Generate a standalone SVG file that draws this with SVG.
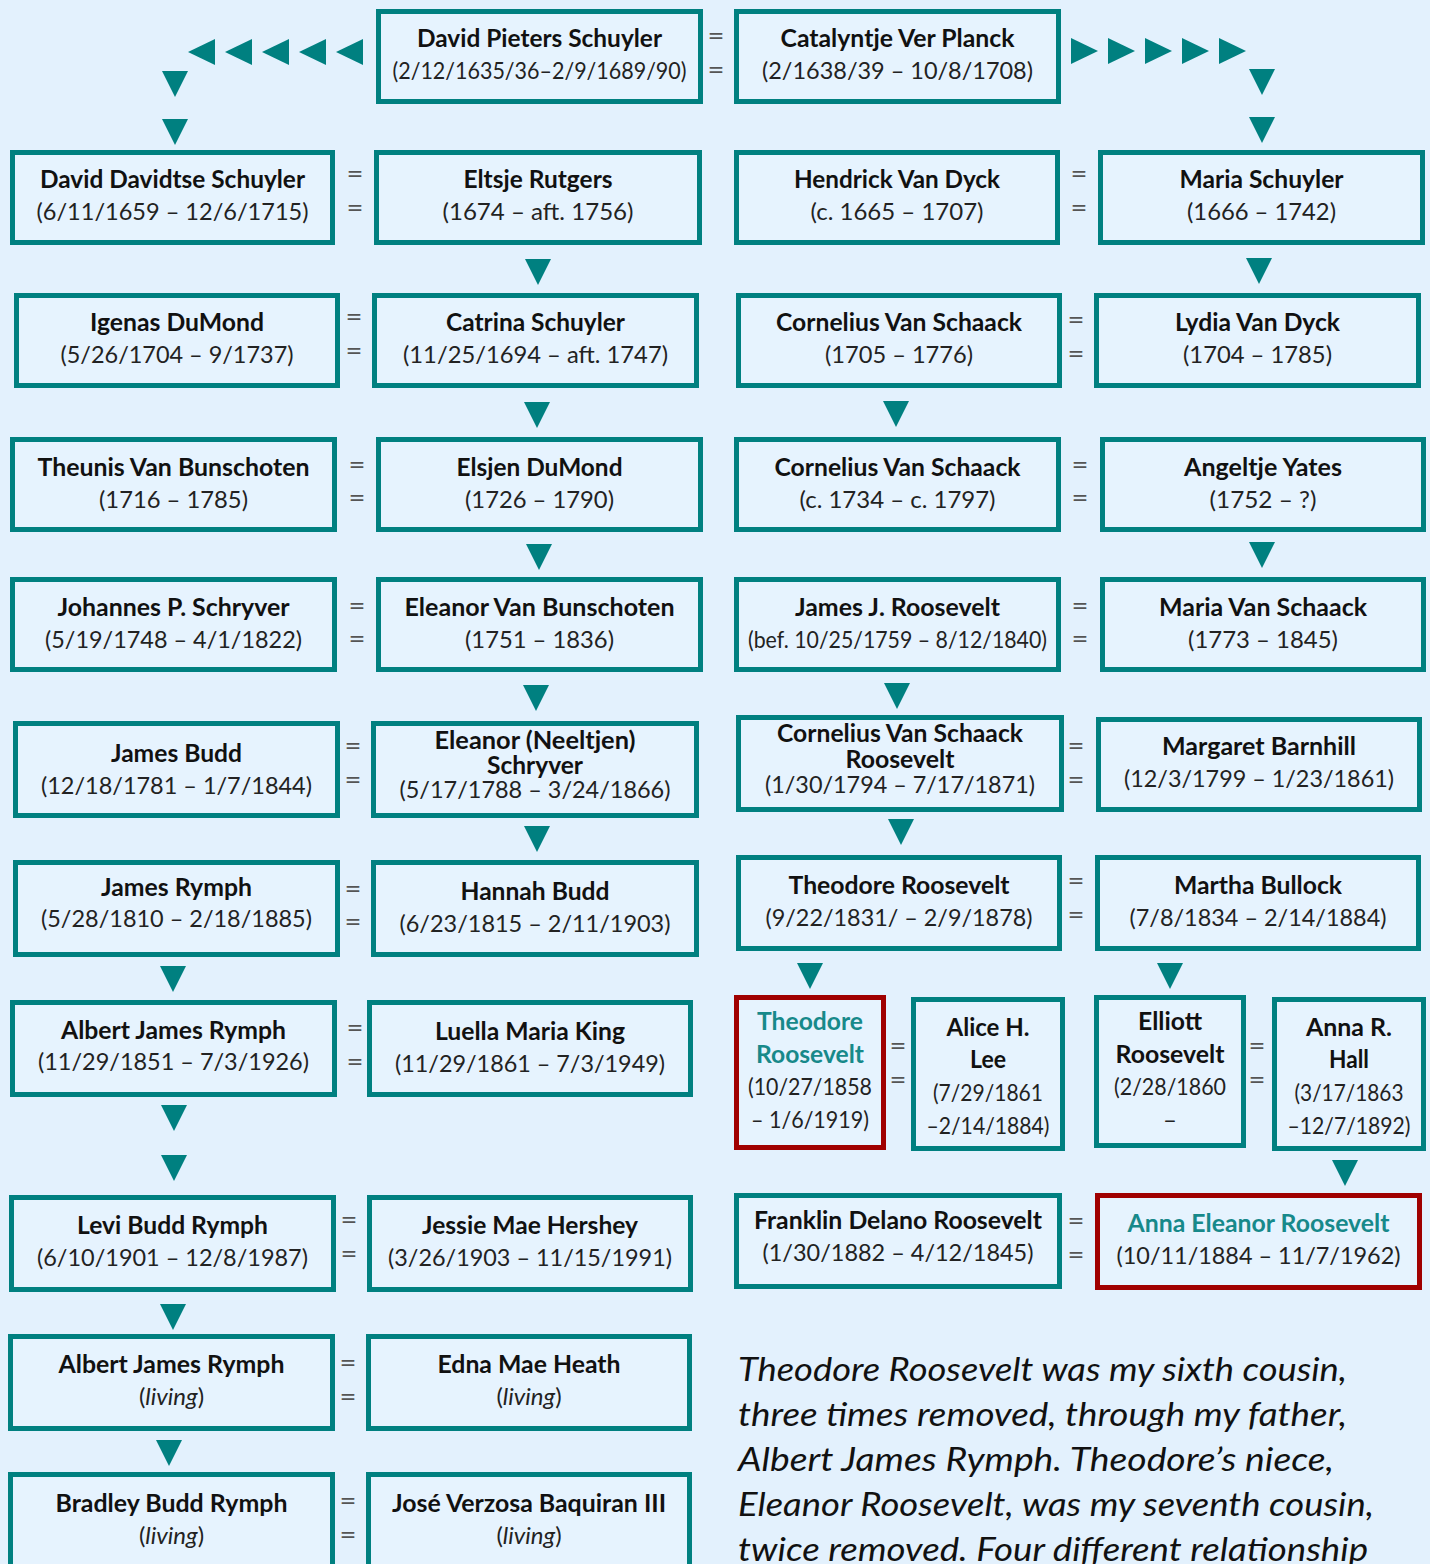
<svg xmlns="http://www.w3.org/2000/svg" xmlns:xlink="http://www.w3.org/1999/xlink" width="1430" height="1564" viewBox="0 0 1430 1564">
<style>
.bg{fill:#E3F1FD}
.box{fill:#E6F3FE;stroke:#008080;stroke-width:5}
.red{stroke:#A00000}
text{font-family:Lato,"Open Sans","Liberation Sans",sans-serif;text-anchor:middle}
.nm{font-size:24px;font-weight:bold;fill:#111}
.tl{font-size:24px;font-weight:bold;fill:#17898A}
.dt{font-size:24px;fill:#222}
.it{font-style:italic}
.eq{font-size:26px;fill:#555}
.tri{fill:#008080}
.para{font-size:33px;font-style:italic;fill:#111;text-anchor:start}
</style>
<defs>
<path id="dn" d="M-13,0 L13,0 L0,26 Z"/>
<path id="lf" d="M0,13 L27,0 L27,26 Z"/>
<path id="rt" d="M0,0 L27,13 L0,26 Z"/>
</defs>
<rect class="bg" x="0" y="0" width="1430" height="1564"/>

<g id="connectors">
<use href="#lf" class="tri" x="188" y="39"/>
<use href="#lf" class="tri" x="225" y="39"/>
<use href="#lf" class="tri" x="262" y="39"/>
<use href="#lf" class="tri" x="299" y="39"/>
<use href="#lf" class="tri" x="336" y="39"/>
<use href="#dn" class="tri" x="175" y="71"/>
<use href="#dn" class="tri" x="175" y="119"/>
<use href="#rt" class="tri" x="1071" y="38"/>
<use href="#rt" class="tri" x="1108" y="38"/>
<use href="#rt" class="tri" x="1145" y="38"/>
<use href="#rt" class="tri" x="1182" y="38"/>
<use href="#rt" class="tri" x="1219" y="38"/>
<use href="#dn" class="tri" x="1262" y="69"/>
<use href="#dn" class="tri" x="1262" y="117"/>
<use href="#dn" class="tri" x="538" y="259"/>
<use href="#dn" class="tri" x="537" y="402"/>
<use href="#dn" class="tri" x="539" y="544"/>
<use href="#dn" class="tri" x="536" y="685"/>
<use href="#dn" class="tri" x="537" y="826"/>
<use href="#dn" class="tri" x="173" y="966"/>
<use href="#dn" class="tri" x="174" y="1105"/>
<use href="#dn" class="tri" x="174" y="1155"/>
<use href="#dn" class="tri" x="173" y="1304"/>
<use href="#dn" class="tri" x="169" y="1440"/>
<use href="#dn" class="tri" x="1259" y="258"/>
<use href="#dn" class="tri" x="896" y="401"/>
<use href="#dn" class="tri" x="1262" y="542"/>
<use href="#dn" class="tri" x="897" y="683"/>
<use href="#dn" class="tri" x="901" y="819"/>
<use href="#dn" class="tri" x="810" y="963"/>
<use href="#dn" class="tri" x="1170" y="963"/>
<use href="#dn" class="tri" x="1345" y="1160"/>
</g>

<g id="marriages">
<text class="eq" x="716" y="45" textLength="17" lengthAdjust="spacingAndGlyphs">=</text><text class="eq" x="716" y="79" textLength="17" lengthAdjust="spacingAndGlyphs">=</text>
<text class="eq" x="355" y="183" textLength="17" lengthAdjust="spacingAndGlyphs">=</text><text class="eq" x="355" y="217" textLength="17" lengthAdjust="spacingAndGlyphs">=</text>
<text class="eq" x="1079" y="183" textLength="17" lengthAdjust="spacingAndGlyphs">=</text><text class="eq" x="1079" y="217" textLength="17" lengthAdjust="spacingAndGlyphs">=</text>
<text class="eq" x="354" y="326" textLength="17" lengthAdjust="spacingAndGlyphs">=</text><text class="eq" x="354" y="360" textLength="17" lengthAdjust="spacingAndGlyphs">=</text>
<text class="eq" x="1076" y="329" textLength="17" lengthAdjust="spacingAndGlyphs">=</text><text class="eq" x="1076" y="363" textLength="17" lengthAdjust="spacingAndGlyphs">=</text>
<text class="eq" x="357" y="474" textLength="17" lengthAdjust="spacingAndGlyphs">=</text><text class="eq" x="357" y="507" textLength="17" lengthAdjust="spacingAndGlyphs">=</text>
<text class="eq" x="1080" y="474" textLength="17" lengthAdjust="spacingAndGlyphs">=</text><text class="eq" x="1080" y="507" textLength="17" lengthAdjust="spacingAndGlyphs">=</text>
<text class="eq" x="357" y="615" textLength="17" lengthAdjust="spacingAndGlyphs">=</text><text class="eq" x="357" y="648" textLength="17" lengthAdjust="spacingAndGlyphs">=</text>
<text class="eq" x="1080" y="615" textLength="17" lengthAdjust="spacingAndGlyphs">=</text><text class="eq" x="1080" y="648" textLength="17" lengthAdjust="spacingAndGlyphs">=</text>
<text class="eq" x="353" y="755" textLength="17" lengthAdjust="spacingAndGlyphs">=</text><text class="eq" x="353" y="789" textLength="17" lengthAdjust="spacingAndGlyphs">=</text>
<text class="eq" x="1076" y="755" textLength="17" lengthAdjust="spacingAndGlyphs">=</text><text class="eq" x="1076" y="789" textLength="17" lengthAdjust="spacingAndGlyphs">=</text>
<text class="eq" x="353" y="898" textLength="17" lengthAdjust="spacingAndGlyphs">=</text><text class="eq" x="353" y="931" textLength="17" lengthAdjust="spacingAndGlyphs">=</text>
<text class="eq" x="1076" y="890" textLength="17" lengthAdjust="spacingAndGlyphs">=</text><text class="eq" x="1076" y="924" textLength="17" lengthAdjust="spacingAndGlyphs">=</text>
<text class="eq" x="355" y="1037" textLength="17" lengthAdjust="spacingAndGlyphs">=</text><text class="eq" x="355" y="1071" textLength="17" lengthAdjust="spacingAndGlyphs">=</text>
<text class="eq" x="898" y="1055" textLength="17" lengthAdjust="spacingAndGlyphs">=</text><text class="eq" x="898" y="1089" textLength="17" lengthAdjust="spacingAndGlyphs">=</text>
<text class="eq" x="1257" y="1055" textLength="17" lengthAdjust="spacingAndGlyphs">=</text><text class="eq" x="1257" y="1089" textLength="17" lengthAdjust="spacingAndGlyphs">=</text>
<text class="eq" x="349" y="1229" textLength="17" lengthAdjust="spacingAndGlyphs">=</text><text class="eq" x="349" y="1263" textLength="17" lengthAdjust="spacingAndGlyphs">=</text>
<text class="eq" x="1076" y="1230" textLength="17" lengthAdjust="spacingAndGlyphs">=</text><text class="eq" x="1076" y="1264" textLength="17" lengthAdjust="spacingAndGlyphs">=</text>
<text class="eq" x="348" y="1372" textLength="17" lengthAdjust="spacingAndGlyphs">=</text><text class="eq" x="348" y="1406" textLength="17" lengthAdjust="spacingAndGlyphs">=</text>
<text class="eq" x="348" y="1510" textLength="17" lengthAdjust="spacingAndGlyphs">=</text><text class="eq" x="348" y="1544" textLength="17" lengthAdjust="spacingAndGlyphs">=</text>
</g>

<g id="david-pieters-schuyler"><rect class="box" x="378.5" y="11.5" width="322" height="90"/>
<text class="nm" x="539.5" y="47" textLength="245" lengthAdjust="spacingAndGlyphs">David Pieters Schuyler</text>
<text class="dt" x="539.5" y="79" textLength="294" lengthAdjust="spacingAndGlyphs">(2/12/1635/36–2/9/1689/90)</text></g>
<g id="catalyntje-ver-planck"><rect class="box" x="736.5" y="11.5" width="322" height="90"/>
<text class="nm" x="897.5" y="47" textLength="234" lengthAdjust="spacingAndGlyphs">Catalyntje Ver Planck</text>
<text class="dt" x="897.5" y="79" textLength="271" lengthAdjust="spacingAndGlyphs">(2/1638/39 – 10/8/1708)</text></g>

<g id="david-davidtse-schuyler"><rect class="box" x="12.5" y="152.5" width="320" height="90"/>
<text class="nm" x="172.5" y="188" textLength="265" lengthAdjust="spacingAndGlyphs">David Davidtse Schuyler</text>
<text class="dt" x="172.5" y="220" textLength="272" lengthAdjust="spacingAndGlyphs">(6/11/1659 – 12/6/1715)</text></g>
<g id="eltsje-rutgers"><rect class="box" x="376.5" y="152.5" width="323" height="90"/>
<text class="nm" x="538" y="188" textLength="149" lengthAdjust="spacingAndGlyphs">Eltsje Rutgers</text>
<text class="dt" x="538" y="220" textLength="191" lengthAdjust="spacingAndGlyphs">(1674 – aft. 1756)</text></g>
<g id="hendrick-van-dyck"><rect class="box" x="736.5" y="152.5" width="321" height="90"/>
<text class="nm" x="897" y="188" textLength="206" lengthAdjust="spacingAndGlyphs">Hendrick Van Dyck</text>
<text class="dt" x="897" y="220" textLength="173" lengthAdjust="spacingAndGlyphs">(c. 1665 – 1707)</text></g>
<g id="maria-schuyler"><rect class="box" x="1100.5" y="152.5" width="322" height="90"/>
<text class="nm" x="1261.5" y="188" textLength="164" lengthAdjust="spacingAndGlyphs">Maria Schuyler</text>
<text class="dt" x="1261.5" y="220" textLength="149" lengthAdjust="spacingAndGlyphs">(1666 – 1742)</text></g>

<g id="igenas-dumond"><rect class="box" x="16.5" y="295.5" width="321" height="90"/>
<text class="nm" x="177" y="331" textLength="174" lengthAdjust="spacingAndGlyphs">Igenas DuMond</text>
<text class="dt" x="177" y="363" textLength="233" lengthAdjust="spacingAndGlyphs">(5/26/1704 – 9/1737)</text></g>
<g id="catrina-schuyler"><rect class="box" x="374.5" y="295.5" width="322" height="90"/>
<text class="nm" x="535.5" y="331" textLength="179" lengthAdjust="spacingAndGlyphs">Catrina Schuyler</text>
<text class="dt" x="535.5" y="363" textLength="265" lengthAdjust="spacingAndGlyphs">(11/25/1694 – aft. 1747)</text></g>
<g id="cornelius-van-schaack-1705"><rect class="box" x="738.5" y="295.5" width="321" height="90"/>
<text class="nm" x="899" y="331" textLength="246" lengthAdjust="spacingAndGlyphs">Cornelius Van Schaack</text>
<text class="dt" x="899" y="363" textLength="148" lengthAdjust="spacingAndGlyphs">(1705 – 1776)</text></g>
<g id="lydia-van-dyck"><rect class="box" x="1096.5" y="295.5" width="322" height="90"/>
<text class="nm" x="1257.5" y="331" textLength="165" lengthAdjust="spacingAndGlyphs">Lydia Van Dyck</text>
<text class="dt" x="1257.5" y="363" textLength="149" lengthAdjust="spacingAndGlyphs">(1704 – 1785)</text></g>

<g id="theunis-van-bunschoten"><rect class="box" x="12.5" y="439.5" width="322" height="90"/>
<text class="nm" x="173.5" y="476" textLength="272" lengthAdjust="spacingAndGlyphs">Theunis Van Bunschoten</text>
<text class="dt" x="173.5" y="508" textLength="149" lengthAdjust="spacingAndGlyphs">(1716 – 1785)</text></g>
<g id="elsjen-dumond"><rect class="box" x="378.5" y="439.5" width="322" height="90"/>
<text class="nm" x="539.5" y="476" textLength="166" lengthAdjust="spacingAndGlyphs">Elsjen DuMond</text>
<text class="dt" x="539.5" y="508" textLength="149" lengthAdjust="spacingAndGlyphs">(1726 – 1790)</text></g>
<g id="cornelius-van-schaack-1734"><rect class="box" x="736.5" y="439.5" width="322" height="90"/>
<text class="nm" x="897.5" y="476" textLength="246" lengthAdjust="spacingAndGlyphs">Cornelius Van Schaack</text>
<text class="dt" x="897.5" y="508" textLength="196" lengthAdjust="spacingAndGlyphs">(c. 1734 – c. 1797)</text></g>
<g id="angeltje-yates"><rect class="box" x="1102.5" y="439.5" width="321" height="90"/>
<text class="nm" x="1263" y="476" textLength="158" lengthAdjust="spacingAndGlyphs">Angeltje Yates</text>
<text class="dt" x="1263" y="508" textLength="107" lengthAdjust="spacingAndGlyphs">(1752 – ?)</text></g>

<g id="johannes-p-schryver"><rect class="box" x="12.5" y="579.5" width="322" height="90"/>
<text class="nm" x="173.5" y="616" textLength="232" lengthAdjust="spacingAndGlyphs">Johannes P. Schryver</text>
<text class="dt" x="173.5" y="648" textLength="257" lengthAdjust="spacingAndGlyphs">(5/19/1748 – 4/1/1822)</text></g>
<g id="eleanor-van-bunschoten"><rect class="box" x="378.5" y="579.5" width="322" height="90"/>
<text class="nm" x="539.5" y="616" textLength="270" lengthAdjust="spacingAndGlyphs">Eleanor Van Bunschoten</text>
<text class="dt" x="539.5" y="648" textLength="149" lengthAdjust="spacingAndGlyphs">(1751 – 1836)</text></g>
<g id="james-j-roosevelt"><rect class="box" x="736.5" y="579.5" width="322" height="90"/>
<text class="nm" x="897.5" y="616" textLength="205" lengthAdjust="spacingAndGlyphs">James J. Roosevelt</text>
<text class="dt" x="897.5" y="648" textLength="299" lengthAdjust="spacingAndGlyphs">(bef. 10/25/1759 – 8/12/1840)</text></g>
<g id="maria-van-schaack"><rect class="box" x="1102.5" y="579.5" width="321" height="90"/>
<text class="nm" x="1263" y="616" textLength="208" lengthAdjust="spacingAndGlyphs">Maria Van Schaack</text>
<text class="dt" x="1263" y="648" textLength="150" lengthAdjust="spacingAndGlyphs">(1773 – 1845)</text></g>

<g id="james-budd"><rect class="box" x="15.5" y="723.5" width="322" height="92"/>
<text class="nm" x="176.5" y="762" textLength="131" lengthAdjust="spacingAndGlyphs">James Budd</text>
<text class="dt" x="176.5" y="794" textLength="271" lengthAdjust="spacingAndGlyphs">(12/18/1781 – 1/7/1844)</text></g>
<g id="eleanor-neeltjen-schryver"><rect class="box" x="373.5" y="723.5" width="323" height="92"/>
<text class="nm" x="535" y="749" textLength="201" lengthAdjust="spacingAndGlyphs">Eleanor (Neeltjen)</text>
<text class="nm" x="535" y="774" textLength="96" lengthAdjust="spacingAndGlyphs">Schryver</text>
<text class="dt" x="535" y="798" textLength="271" lengthAdjust="spacingAndGlyphs">(5/17/1788 – 3/24/1866)</text></g>
<g id="cornelius-van-schaack-roosevelt"><rect class="box" x="738.5" y="717.5" width="323" height="92"/>
<text class="nm" x="900" y="742" textLength="246" lengthAdjust="spacingAndGlyphs">Cornelius Van Schaack</text>
<text class="nm" x="900" y="768" textLength="109" lengthAdjust="spacingAndGlyphs">Roosevelt</text>
<text class="dt" x="900" y="793" textLength="270" lengthAdjust="spacingAndGlyphs">(1/30/1794 – 7/17/1871)</text></g>
<g id="margaret-barnhill"><rect class="box" x="1098.5" y="719.5" width="321" height="90"/>
<text class="nm" x="1259" y="755" textLength="194" lengthAdjust="spacingAndGlyphs">Margaret Barnhill</text>
<text class="dt" x="1259" y="787" textLength="270" lengthAdjust="spacingAndGlyphs">(12/3/1799 – 1/23/1861)</text></g>

<g id="james-rymph"><rect class="box" x="15.5" y="862.5" width="322" height="92"/>
<text class="nm" x="176.5" y="896" textLength="151" lengthAdjust="spacingAndGlyphs">James Rymph</text>
<text class="dt" x="176.5" y="927" textLength="271" lengthAdjust="spacingAndGlyphs">(5/28/1810 – 2/18/1885)</text></g>
<g id="hannah-budd"><rect class="box" x="373.5" y="862.5" width="323" height="92"/>
<text class="nm" x="535" y="900" textLength="149" lengthAdjust="spacingAndGlyphs">Hannah Budd</text>
<text class="dt" x="535" y="932" textLength="271" lengthAdjust="spacingAndGlyphs">(6/23/1815 – 2/11/1903)</text></g>
<g id="theodore-roosevelt-sr"><rect class="box" x="738.5" y="857.5" width="321" height="91"/>
<text class="nm" x="899" y="894" textLength="221" lengthAdjust="spacingAndGlyphs">Theodore Roosevelt</text>
<text class="dt" x="899" y="926" textLength="267" lengthAdjust="spacingAndGlyphs">(9/22/1831/ – 2/9/1878)</text></g>
<g id="martha-bullock"><rect class="box" x="1097.5" y="857.5" width="321" height="91"/>
<text class="nm" x="1258" y="894" textLength="168" lengthAdjust="spacingAndGlyphs">Martha Bullock</text>
<text class="dt" x="1258" y="926" textLength="257" lengthAdjust="spacingAndGlyphs">(7/8/1834 – 2/14/1884)</text></g>

<g id="albert-james-rymph-1851"><rect class="box" x="12.5" y="1002.5" width="322" height="92"/>
<text class="nm" x="173.5" y="1039" textLength="225" lengthAdjust="spacingAndGlyphs">Albert James Rymph</text>
<text class="dt" x="173.5" y="1070" textLength="271" lengthAdjust="spacingAndGlyphs">(11/29/1851 – 7/3/1926)</text></g>
<g id="luella-maria-king"><rect class="box" x="369.5" y="1002.5" width="321" height="92"/>
<text class="nm" x="530" y="1040" textLength="190" lengthAdjust="spacingAndGlyphs">Luella Maria King</text>
<text class="dt" x="530" y="1072" textLength="270" lengthAdjust="spacingAndGlyphs">(11/29/1861 – 7/3/1949)</text></g>
<g id="theodore-roosevelt"><rect class="box red" x="736.5" y="997.5" width="147" height="150"/>
<text class="tl" x="810" y="1030" textLength="106" lengthAdjust="spacingAndGlyphs">Theodore</text>
<text class="tl" x="810" y="1063" textLength="108" lengthAdjust="spacingAndGlyphs">Roosevelt</text>
<text class="dt" x="810" y="1095" textLength="124" lengthAdjust="spacingAndGlyphs">(10/27/1858</text>
<text class="dt" x="810" y="1128" textLength="118" lengthAdjust="spacingAndGlyphs">– 1/6/1919)</text></g>
<g id="alice-h-lee"><rect class="box" x="913.5" y="999.5" width="149" height="149"/>
<text class="nm" x="988" y="1036" textLength="83" lengthAdjust="spacingAndGlyphs">Alice H.</text>
<text class="nm" x="988" y="1068" textLength="36" lengthAdjust="spacingAndGlyphs">Lee</text>
<text class="dt" x="988" y="1101" textLength="110" lengthAdjust="spacingAndGlyphs">(7/29/1861</text>
<text class="dt" x="988" y="1134" textLength="123" lengthAdjust="spacingAndGlyphs">–2/14/1884)</text></g>
<g id="elliott-roosevelt"><rect class="box" x="1096.5" y="997.5" width="147" height="148"/>
<text class="nm" x="1170" y="1030" textLength="64" lengthAdjust="spacingAndGlyphs">Elliott</text>
<text class="nm" x="1170" y="1063" textLength="109" lengthAdjust="spacingAndGlyphs">Roosevelt</text>
<text class="dt" x="1170" y="1095" textLength="112" lengthAdjust="spacingAndGlyphs">(2/28/1860</text>
<text class="dt" x="1170" y="1128">–</text></g>
<g id="anna-r-hall"><rect class="box" x="1274.5" y="999.5" width="149" height="149"/>
<text class="nm" x="1349" y="1036" textLength="86" lengthAdjust="spacingAndGlyphs">Anna R.</text>
<text class="nm" x="1349" y="1068" textLength="40" lengthAdjust="spacingAndGlyphs">Hall</text>
<text class="dt" x="1349" y="1101" textLength="109" lengthAdjust="spacingAndGlyphs">(3/17/1863</text>
<text class="dt" x="1349" y="1134" textLength="123" lengthAdjust="spacingAndGlyphs">–12/7/1892)</text></g>

<g id="levi-budd-rymph"><rect class="box" x="11.5" y="1197.5" width="322" height="92"/>
<text class="nm" x="172.5" y="1234" textLength="191" lengthAdjust="spacingAndGlyphs">Levi Budd Rymph</text>
<text class="dt" x="172.5" y="1266" textLength="271" lengthAdjust="spacingAndGlyphs">(6/10/1901 – 12/8/1987)</text></g>
<g id="jessie-mae-hershey"><rect class="box" x="369.5" y="1197.5" width="321" height="92"/>
<text class="nm" x="530" y="1234" textLength="216" lengthAdjust="spacingAndGlyphs">Jessie Mae Hershey</text>
<text class="dt" x="530" y="1266" textLength="284" lengthAdjust="spacingAndGlyphs">(3/26/1903 – 11/15/1991)</text></g>
<g id="franklin-delano-roosevelt"><rect class="box" x="736.5" y="1195.5" width="323" height="91"/>
<text class="nm" x="898" y="1229" textLength="288" lengthAdjust="spacingAndGlyphs">Franklin Delano Roosevelt</text>
<text class="dt" x="898" y="1261" textLength="271" lengthAdjust="spacingAndGlyphs">(1/30/1882 – 4/12/1845)</text></g>
<g id="anna-eleanor-roosevelt"><rect class="box red" x="1097.5" y="1195.5" width="322" height="92"/>
<text class="tl" x="1258.5" y="1232" textLength="262" lengthAdjust="spacingAndGlyphs">Anna Eleanor Roosevelt</text>
<text class="dt" x="1258.5" y="1264" textLength="284" lengthAdjust="spacingAndGlyphs">(10/11/1884 – 11/7/1962)</text></g>

<g id="albert-james-rymph-living"><rect class="box" x="10.5" y="1336.5" width="322" height="92"/>
<text class="nm" x="171.5" y="1373" textLength="226" lengthAdjust="spacingAndGlyphs">Albert James Rymph</text>
<text class="dt" x="171.5" y="1405">(<tspan class="it">living</tspan>)</text></g>
<g id="edna-mae-heath"><rect class="box" x="368.5" y="1336.5" width="321" height="92"/>
<text class="nm" x="529" y="1373" textLength="183" lengthAdjust="spacingAndGlyphs">Edna Mae Heath</text>
<text class="dt" x="529" y="1405">(<tspan class="it">living</tspan>)</text></g>

<g id="bradley-budd-rymph"><rect class="box" x="10.5" y="1474.5" width="322" height="120"/>
<text class="nm" x="171.5" y="1512" textLength="232" lengthAdjust="spacingAndGlyphs">Bradley Budd Rymph</text>
<text class="dt" x="171.5" y="1544">(<tspan class="it">living</tspan>)</text></g>
<g id="jose-verzosa-baquiran-iii"><rect class="box" x="368.5" y="1474.5" width="321" height="120"/>
<text class="nm" x="529" y="1512" textLength="274" lengthAdjust="spacingAndGlyphs">José Verzosa Baquiran III</text>
<text class="dt" x="529" y="1544">(<tspan class="it">living</tspan>)</text></g>

<g id="note">
<text class="para" x="738" y="1381" textLength="609" lengthAdjust="spacingAndGlyphs">Theodore Roosevelt was my sixth cousin,</text>
<text class="para" x="738" y="1426" textLength="609" lengthAdjust="spacingAndGlyphs">three times removed, through my father,</text>
<text class="para" x="738" y="1471" textLength="596" lengthAdjust="spacingAndGlyphs">Albert James Rymph. Theodore’s niece,</text>
<text class="para" x="738" y="1516" textLength="636" lengthAdjust="spacingAndGlyphs">Eleanor Roosevelt, was my seventh cousin,</text>
<text class="para" x="738" y="1561" textLength="630" lengthAdjust="spacingAndGlyphs">twice removed. Four different relationship</text>
</g>
</svg>
